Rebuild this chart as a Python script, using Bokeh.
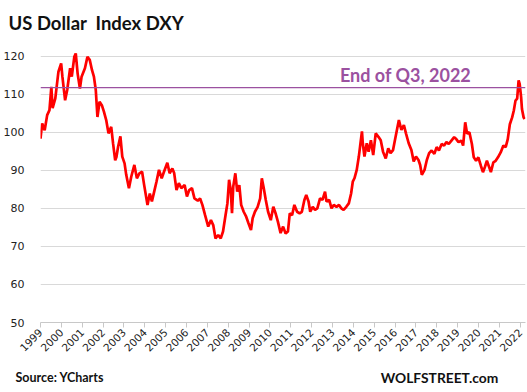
from math import pi
from bokeh.plotting import figure
from bokeh.layouts import column
from bokeh.models import Range1d, FixedTicker, Span, Label
from bokeh.core.properties import value
from bokeh.embed import file_html
from bokeh.resources import INLINE

# ---- data (x in axis-label years) ----
dxy_year = [
    1999.00, 1999.08, 1999.20, 1999.32, 1999.43, 1999.52, 1999.58, 1999.71, 1999.86, 1999.99,
    2000.05, 2000.18, 2000.28, 2000.42, 2000.50, 2000.62, 2000.69, 2000.78, 2000.89, 2000.97,
    2001.13, 2001.25, 2001.36, 2001.47, 2001.56, 2001.65, 2001.73, 2001.83, 2001.94, 2002.04,
    2002.15, 2002.26, 2002.39, 2002.48, 2002.58, 2002.64, 2002.72, 2002.83, 2002.92, 2003.03,
    2003.11, 2003.24, 2003.35, 2003.50, 2003.62, 2003.74, 2003.87, 2003.97, 2004.13, 2004.24,
    2004.34, 2004.45, 2004.56, 2004.68, 2004.81, 2004.92, 2005.08, 2005.19, 2005.32, 2005.41,
    2005.52, 2005.63, 2005.75, 2005.91, 2006.02, 2006.13, 2006.26, 2006.38, 2006.54, 2006.65,
    2006.76, 2006.89, 2007.04, 2007.17, 2007.28, 2007.39, 2007.52, 2007.64, 2007.75, 2007.87,
    2007.96, 2008.04, 2008.12, 2008.18, 2008.24, 2008.34, 2008.43, 2008.53, 2008.62, 2008.74,
    2008.86, 2008.97, 2009.09, 2009.17, 2009.28, 2009.41, 2009.53, 2009.61, 2009.69, 2009.80,
    2009.91, 2010.04, 2010.16, 2010.28, 2010.38, 2010.51, 2010.63, 2010.75, 2010.86, 2010.95,
    2011.06, 2011.17, 2011.30, 2011.42, 2011.53, 2011.65, 2011.74, 2011.85, 2011.93, 2012.05,
    2012.16, 2012.27, 2012.40, 2012.52, 2012.64, 2012.71, 2012.84, 2012.95, 2013.06, 2013.19,
    2013.31, 2013.42, 2013.53, 2013.66, 2013.78, 2013.89, 2013.97, 2014.05, 2014.16, 2014.26,
    2014.34, 2014.41, 2014.45, 2014.53, 2014.64, 2014.73, 2014.84, 2014.95, 2015.07, 2015.20,
    2015.31, 2015.42, 2015.55, 2015.67, 2015.78, 2015.90, 2015.99, 2016.10, 2016.18, 2016.30,
    2016.42, 2016.52, 2016.65, 2016.78, 2016.89, 2017.00, 2017.12, 2017.20, 2017.28, 2017.41,
    2017.52, 2017.63, 2017.75, 2017.88, 2017.99, 2018.10, 2018.23, 2018.35, 2018.46, 2018.57,
    2018.70, 2018.83, 2018.93, 2019.04, 2019.17, 2019.26, 2019.36, 2019.45, 2019.56, 2019.68,
    2019.77, 2019.88, 2019.99, 2020.11, 2020.21, 2020.30, 2020.40, 2020.51, 2020.59, 2020.71,
    2020.82, 2020.93, 2021.06, 2021.19, 2021.30, 2021.40, 2021.50, 2021.61, 2021.69, 2021.77,
    2021.85, 2021.92, 2021.97, 2022.04, 2022.08, 2022.16, 2022.21,
]
dxy_value = [
    98.3, 102.3, 100.5, 104.5, 105.8, 111.9, 106.3, 108.9, 115.9, 118.1,
    114.6, 108.4, 111.1, 116.8, 114.6, 119.8, 120.7, 115.4, 111.5, 114.6,
    116.8, 119.8, 119.0, 116.3, 114.6, 111.1, 104.0, 108.0, 107.1, 105.4,
    103.2, 99.7, 101.4, 97.0, 92.6, 93.5, 96.2, 98.9, 93.6, 91.8,
    88.8, 85.3, 88.3, 91.4, 87.9, 89.2, 89.6, 86.1, 80.9, 83.9,
    81.8, 84.4, 87.0, 90.1, 87.9, 89.6, 92.0, 89.2, 90.5, 89.2,
    84.8, 86.6, 85.3, 86.1, 83.1, 84.8, 85.3, 82.6, 82.0, 82.6,
    80.9, 78.2, 75.2, 76.9, 75.6, 72.1, 73.0, 72.1, 73.9, 78.2,
    81.3, 87.5, 84.8, 78.7, 85.7, 89.2, 84.4, 86.1, 80.9, 79.1,
    77.8, 76.1, 74.3, 77.4, 79.1, 80.4, 82.6, 87.9, 85.7, 82.2,
    79.1, 76.9, 80.4, 78.5, 76.5, 73.5, 75.2, 73.4, 73.9, 78.7,
    78.2, 80.9, 79.1, 78.7, 79.1, 82.2, 83.5, 81.8, 79.1, 80.4,
    79.6, 80.0, 82.6, 82.2, 84.4, 81.8, 82.2, 80.0, 80.9, 80.4,
    80.9, 80.0, 79.6, 80.4, 81.3, 83.9, 87.0, 87.9, 90.1, 93.6,
    97.1, 100.2, 97.1, 93.6, 97.1, 94.9, 97.9, 94.0, 99.7, 98.8,
    97.9, 94.9, 93.1, 95.8, 94.5, 95.3, 97.9, 101.0, 103.2, 100.6,
    101.9, 99.7, 97.1, 95.3, 92.3, 93.6, 92.7, 91.4, 88.8, 90.1,
    92.7, 94.5, 95.2, 94.3, 96.1, 95.2, 96.9, 96.5, 97.4, 96.9,
    97.8, 98.7, 98.2, 97.4, 97.8, 96.5, 102.6, 99.6, 100.0, 96.9,
    93.4, 92.5, 93.4, 91.2, 89.5, 90.8, 92.5, 90.8, 89.5, 92.1,
    92.5, 93.4, 94.7, 96.5, 96.1, 98.2, 102.1, 103.9, 105.7, 108.3,
    108.8, 113.6, 112.7, 109.2, 106.1, 103.9, 103.5,
]
year_ticks = list(range(1999, 2023))
year_labels = [str(y) for y in year_ticks]
value_ticks = [50, 60, 70, 80, 90, 100, 110, 120]
q3_2022_level = 111.7
q3_label_year = 2016.5

title_text = "US Dollar\u00a0\u00a0Index DXY"
source_text = "Source: YCharts"
brand_text = "WOLFSTREET.com"
q3_text = "End of Q3, 2022"

W = 527
HEAD_H, MAIN_H, FOOT_H = 48, 314, 30


def blank(height):
    f = figure(width=W, height=height, output_backend="svg", toolbar_location=None,
               x_range=Range1d(0, W), y_range=Range1d(0, height),
               x_axis_type=None, y_axis_type=None,
               min_border=0, min_border_left=0, min_border_right=0,
               min_border_top=0, min_border_bottom=0)
    f.outline_line_color = None
    f.xgrid.visible = False
    f.ygrid.visible = False
    f.background_fill_color = "white"
    f.border_fill_color = "white"
    return f


# ---- header ----
head = blank(HEAD_H)
head.text(x=[8], y=[HEAD_H - 22], text=[title_text], text_font=value("Lato"),
          text_font_style="bold", text_font_size="18.5px", text_color="#111111",
          text_baseline="middle", text_align="left")

# ---- main chart ----
fig = figure(width=W, height=MAIN_H, output_backend="svg", toolbar_location=None,
             x_range=Range1d(1999, 2022.25), y_range=Range1d(50, 122),
             min_border_left=33, min_border_right=2, min_border_top=0,
             min_border_bottom=40)
fig.outline_line_color = None
fig.background_fill_color = "white"
fig.border_fill_color = "white"

fig.xgrid.grid_line_color = None
fig.ygrid.grid_line_color = "#d9d9d9"
fig.ygrid.grid_line_width = 1

fig.xaxis.ticker = FixedTicker(ticks=year_ticks)
fig.xaxis.major_label_overrides = dict(zip(year_ticks, year_labels))
fig.xaxis.major_label_orientation = pi / 4
fig.xaxis.major_label_text_font = "DejaVu Sans"
fig.xaxis.major_label_text_font_size = "10.5px"
fig.xaxis.major_label_text_color = "#222222"
fig.xaxis.axis_line_color = "#c8c8c8"
fig.xaxis.major_tick_line_color = "#c8c8c8"
fig.xaxis.major_tick_out = 5
fig.xaxis.major_tick_in = 0
fig.xaxis.minor_tick_line_color = None
fig.xaxis.major_label_standoff = 3

fig.yaxis.ticker = FixedTicker(ticks=value_ticks)
fig.yaxis.axis_line_color = None
fig.yaxis.major_tick_line_color = None
fig.yaxis.minor_tick_line_color = None
fig.yaxis.major_label_text_font = "DejaVu Sans"
fig.yaxis.major_label_text_font_size = "11px"
fig.yaxis.major_label_text_color = "#222222"
fig.yaxis.major_label_standoff = 10

fig.line(dxy_year, dxy_value, line_color="#ff0000", line_width=2.7)

fig.add_layout(Span(location=q3_2022_level, dimension="width",
                    line_color="#9b51a0", line_width=1.3))
fig.add_layout(Label(x=q3_label_year, y=q3_2022_level, text=q3_text,
                     y_offset=1.5, text_align="center", text_baseline="bottom",
                     text_font="Lato", text_font_style="bold",
                     text_font_size="18px", text_color="#9b51a0"))

# ---- footer ----
foot = blank(FOOT_H)
foot.text(x=[15], y=[FOOT_H - 15], text=[source_text], text_font=value("Lato"),
          text_font_style="bold", text_font_size="12.5px", text_color="#111111",
          text_baseline="middle", text_align="left")
foot.text(x=[439], y=[FOOT_H - 15], text=[brand_text], text_font=value("Lato"),
          text_font_style="bold", text_font_size="13.8px", text_color="#111111",
          text_baseline="middle", text_align="center")

p = column(column(head), fig, column(foot), spacing=0)

open("out.html", "w").write(file_html(p, INLINE))
